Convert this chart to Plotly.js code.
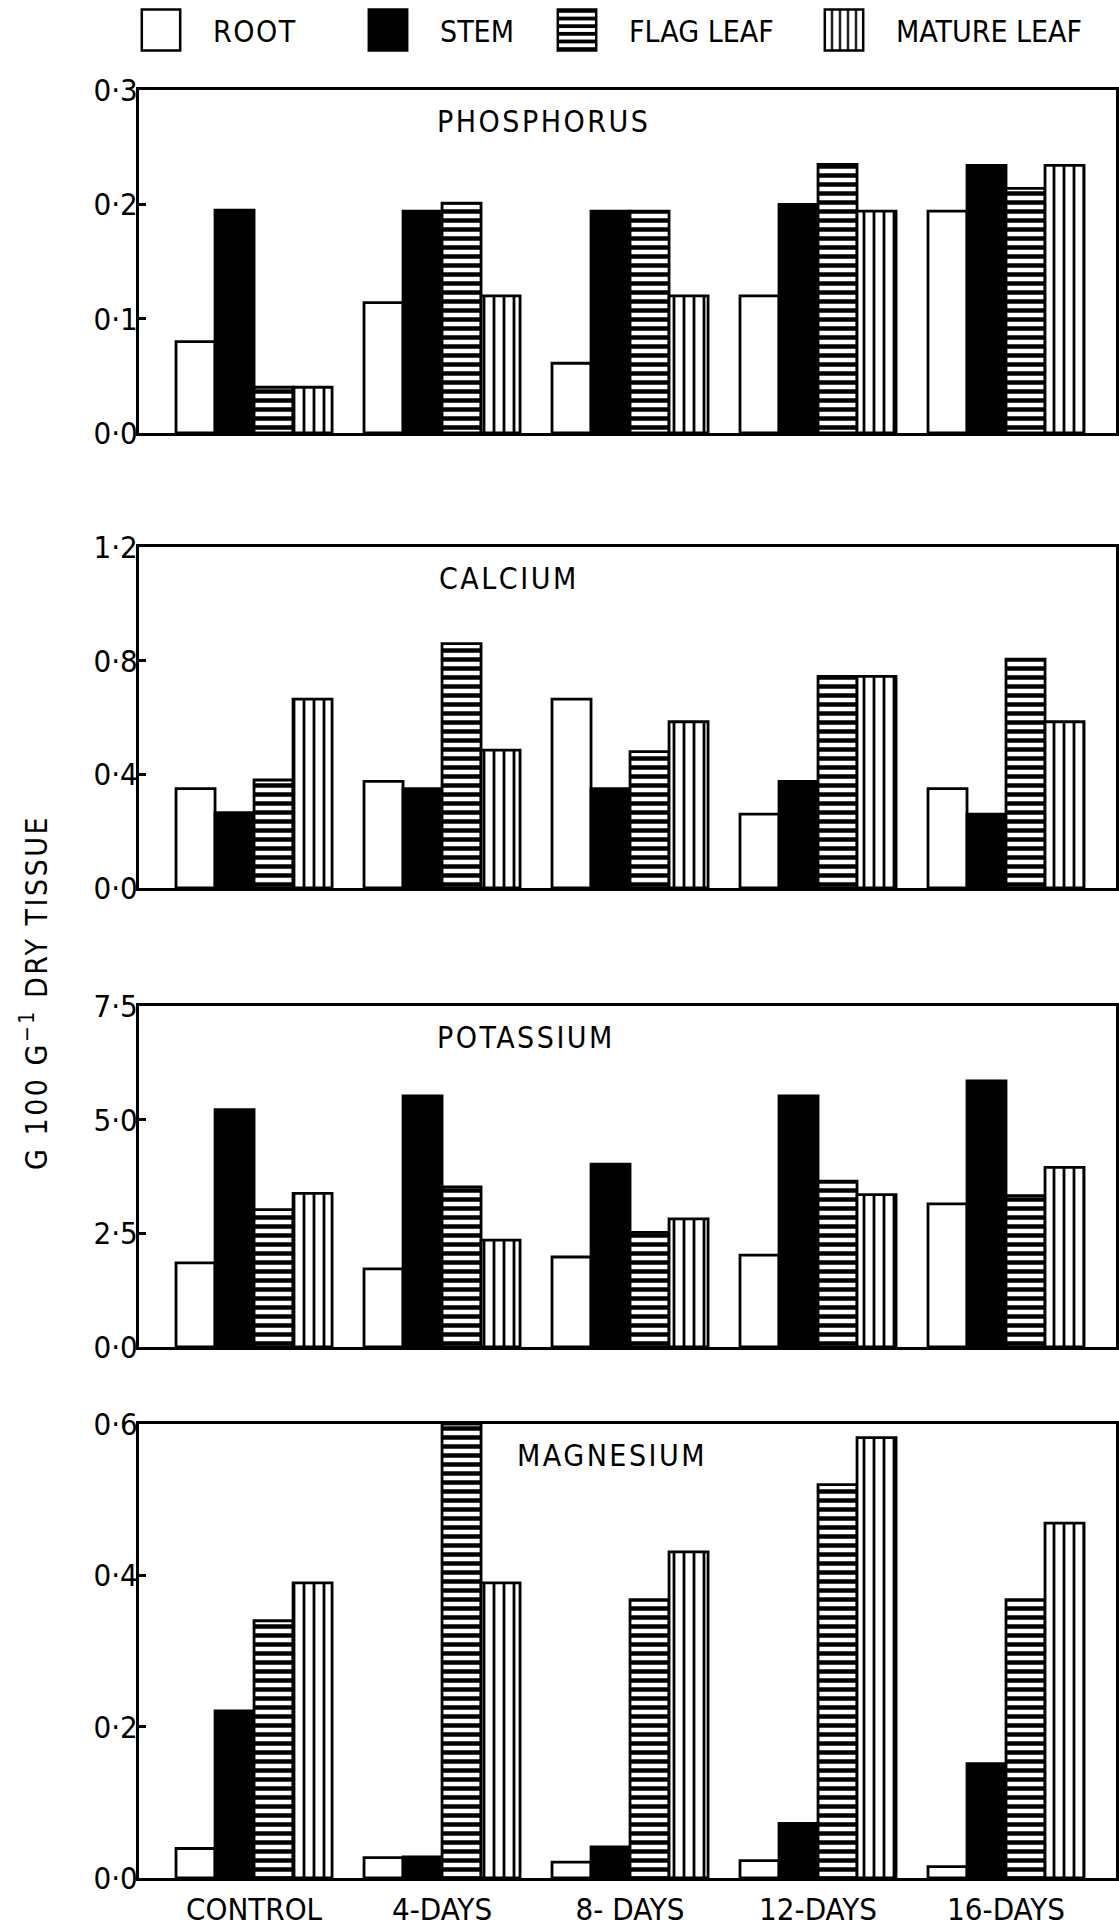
<!DOCTYPE html>
<html>
<head>
<meta charset="utf-8">
<script src="https://cdn.plot.ly/plotly-3.0.1.min.js"></script>
<style>
html, body { margin: 0; padding: 0; background: #fff; }
#chart { width: 1119px; height: 1929px; }
.annotation-text { letter-spacing: 2.5px; }
.legendtext { letter-spacing: 1.5px; }
g.xtick text { letter-spacing: 3px; }
</style>
</head>
<body>
<div id="chart"></div>
<script>
// ---------- data ----------
const categories = ['CONTROL', '4-DAYS', '8- DAYS', '12-DAYS', '16-DAYS'];
const tissues = ['ROOT', 'STEM', 'FLAG LEAF', 'MATURE LEAF'];

const phosphorusRoot   = [0.080, 0.114, 0.061, 0.120, 0.194];
const phosphorusStem   = [0.195, 0.194, 0.194, 0.200, 0.234];
const phosphorusFlag   = [0.040, 0.201, 0.194, 0.235, 0.214];
const phosphorusMature = [0.040, 0.120, 0.120, 0.194, 0.234];

const calciumRoot   = [0.350, 0.375, 0.665, 0.260, 0.350];
const calciumStem   = [0.265, 0.350, 0.350, 0.375, 0.260];
const calciumFlag   = [0.380, 0.860, 0.480, 0.745, 0.805];
const calciumMature = [0.665, 0.485, 0.585, 0.745, 0.585];

const potassiumRoot   = [1.85, 1.72, 1.98, 2.02, 3.15];
const potassiumStem   = [5.22, 5.52, 4.02, 5.52, 5.85];
const potassiumFlag   = [3.02, 3.52, 2.52, 3.65, 3.33];
const potassiumMature = [3.38, 2.35, 2.82, 3.35, 3.95];

const magnesiumRoot   = [0.039, 0.027, 0.021, 0.023, 0.015];
const magnesiumStem   = [0.221, 0.028, 0.041, 0.072, 0.151];
const magnesiumFlag   = [0.340, 0.600, 0.368, 0.520, 0.368];
const magnesiumMature = [0.390, 0.390, 0.431, 0.582, 0.469];

const panelNames = ['PHOSPHORUS', 'CALCIUM', 'POTASSIUM', 'MAGNESIUM'];
const phosphorusTicks = [0, 0.1, 0.2, 0.3];
const phosphorusTickText = ['0·0', '0·1', '0·2', '0·3'];
const calciumTicks = [0, 0.4, 0.8, 1.2];
const calciumTickText = ['0·0', '0·4', '0·8', '1·2'];
const potassiumTicks = [0, 2.5, 5.0, 7.5];
const potassiumTickText = ['0·0', '2·5', '5·0', '7·5'];
const magnesiumTicks = [0, 0.2, 0.4, 0.6];
const magnesiumTickText = ['0·0', '0·2', '0·4', '0·6'];
const yAxisTitle = 'G 100 G<sup>−1</sup> DRY TISSUE';

// ---------- styling ----------
const FONT = 'DejaVu Sans Condensed, DejaVu Sans, sans-serif';
const LW = 2.8;

function tissueMarker(i, legendScale) {
  const s = legendScale ? 1 / 3.2 : 1;
  const line = { color: '#000', width: LW };
  if (i === 0) return { color: '#fff', line: line };
  if (i === 1) return { color: '#000', line: line };
  if (i === 2) return { color: '#fff', line: line,
    pattern: { shape: '-', fgcolor: '#000', bgcolor: '#fff', size: 9 * s, solidity: 0.5, fillmode: 'replace' } };
  return { color: '#fff', line: line,
    pattern: { shape: '|', fgcolor: '#000', bgcolor: '#fff', size: 10 * s, solidity: 0.28, fillmode: 'replace' } };
}

const panels = [
  { series: [phosphorusRoot, phosphorusStem, phosphorusFlag, phosphorusMature], ticks: phosphorusTicks, tickText: phosphorusTickText, top: 90, bottom: 433, titleX: 0.303 },
  { series: [calciumRoot, calciumStem, calciumFlag, calciumMature], ticks: calciumTicks, tickText: calciumTickText, top: 547, bottom: 888, titleX: 0.305 },
  { series: [potassiumRoot, potassiumStem, potassiumFlag, potassiumMature], ticks: potassiumTicks, tickText: potassiumTickText, top: 1006, bottom: 1347, titleX: 0.303 },
  { series: [magnesiumRoot, magnesiumStem, magnesiumFlag, magnesiumMature], ticks: magnesiumTicks, tickText: magnesiumTickText, top: 1424, bottom: 1878, titleX: 0.385 }
];

const W = 1119, H = 1929;
const xLeft = 139 / W, xRight = 1116 / W;
const traces = [];
const layout = {
  width: W, height: H,
  margin: { l: 0, r: 0, t: 0, b: 0, pad: 0 },
  paper_bgcolor: '#fff', plot_bgcolor: '#fff',
  font: { family: FONT, size: 30, color: '#000' },
  barmode: 'group', bargap: 0.17, bargroupgap: 0,
  showlegend: true,
  annotations: []
};

panels.forEach((p, k) => {
  const n = k + 1;
  const xa = n === 1 ? 'x' : 'x' + n;
  const ya = n === 1 ? 'y' : 'y' + n;
  p.series.forEach((vals, i) => {
    traces.push({
      type: 'bar', x: categories, y: vals, name: tissues[i],
      xaxis: xa, yaxis: ya, showlegend: false,
      marker: tissueMarker(i, false), hoverinfo: 'skip'
    });
  });
  const isBottom = k === panels.length - 1;
  layout['xaxis' + (n === 1 ? '' : n)] = {
    domain: [xLeft, xRight], anchor: ya,
    type: 'category', range: [-0.612, 4.585],
    showline: true, linecolor: '#000', linewidth: 3, mirror: true,
    showgrid: false, zeroline: false, ticks: '',
    showticklabels: isBottom, tickfont: { family: FONT, size: 31, color: '#000' },
    ticklabelstandoff: 2, fixedrange: true
  };
  const y0 = 1 - p.bottom / H, y1 = 1 - p.top / H;
  layout['yaxis' + (n === 1 ? '' : n)] = {
    domain: [y0, y1], anchor: xa,
    range: [0, p.ticks[p.ticks.length - 1]],
    tickmode: 'array', tickvals: p.ticks, ticktext: p.tickText,
    showline: true, linecolor: '#000', linewidth: 3, mirror: true,
    showgrid: false, zeroline: false,
    ticks: 'inside', ticklen: 7, tickwidth: 3, tickcolor: '#000',
    tickfont: { family: FONT, size: 31, color: '#000' },
    ticklabelstandoff: -8, fixedrange: true
  };
  layout.annotations.push({
    xref: xa + ' domain', yref: ya + ' domain', x: p.titleX, y: 1,
    xanchor: 'left', yanchor: 'middle', yshift: -31,
    text: panelNames[k], showarrow: false,
    font: { family: FONT, size: 30, color: '#000' }
  });
});

// y-axis title
layout.annotations.push({
  xref: 'paper', yref: 'paper', x: 34 / W, y: 1 - 993 / H,
  xanchor: 'center', yanchor: 'middle', textangle: -90,
  text: yAxisTitle, showarrow: false,
  font: { family: FONT, size: 30, color: '#000' }
});

// legend keys (one legend per tissue so each sits where the original puts it)
layout.xaxis5 = { domain: [0, 0.001], visible: false, anchor: 'y5', fixedrange: true };
layout.yaxis5 = { domain: [0.999, 1], visible: false, anchor: 'x5', fixedrange: true };
const legendCenters = [161, 388, 577, 844];
tissues.forEach((t, i) => {
  const key = i === 0 ? 'legend' : 'legend' + (i + 1);
  traces.push({
    type: 'bar', x: [null], y: [null], name: t, xaxis: 'x5', yaxis: 'y5',
    showlegend: true, legend: key, marker: tissueMarker(i, true), hoverinfo: 'skip'
  });
  layout[key] = {
    x: (legendCenters[i] - 52) / W, y: 1 - 30 / H, xanchor: 'left', yanchor: 'middle',
    orientation: 'h', itemwidth: 94, bgcolor: 'rgba(0,0,0,0)', borderwidth: 0,
    font: { family: FONT, size: 30, color: '#000' }, itemclick: false, itemdoubleclick: false
  };
});

Plotly.newPlot('chart', traces, layout, { staticPlot: true, displayModeBar: false }).then(() => {
  document.querySelectorAll('.legendpoints path').forEach(p => {
    const t = p.getAttribute('transform') || '';
    p.setAttribute('transform', t + ' scale(3.2,3.4)');
    p.style.vectorEffect = 'non-scaling-stroke';
    p.style.strokeWidth = '2.5px';
  });
});
</script>
</body>
</html>
